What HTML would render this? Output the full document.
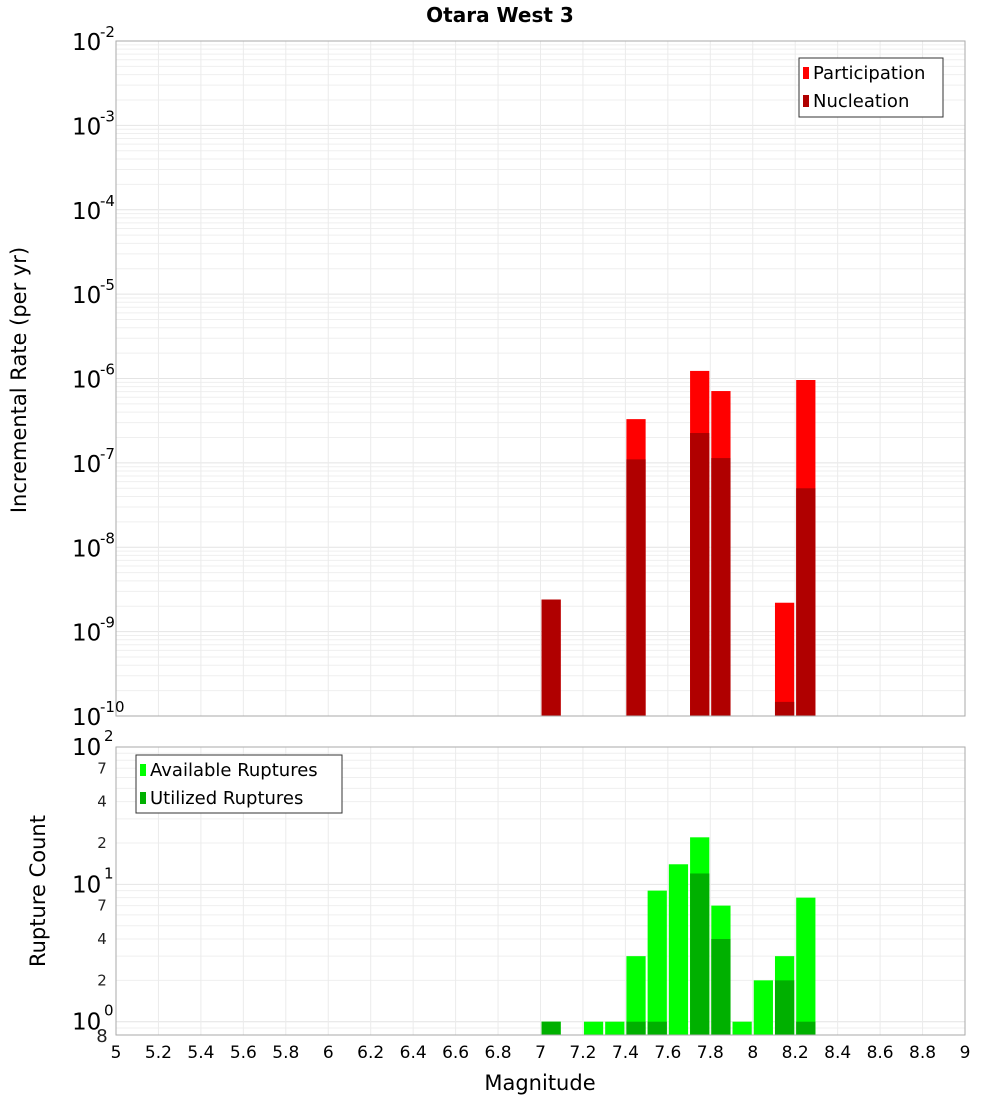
<!DOCTYPE html>
<html><head><meta charset="utf-8"><style>
body{margin:0;background:#fff;font-family:"Liberation Sans","DejaVu Sans",sans-serif}
svg text{font-family:"DejaVu Sans","Liberation Sans",sans-serif}
</style></head><body>
<svg id="c" width="1000" height="1100" xmlns="http://www.w3.org/2000/svg"></svg>
<script>
const mags=[7.0,7.4,7.7,7.8,8.1,8.2];
const partRate=[2.4e-9,3.3e-7,1.23e-6,7.1e-7,2.2e-9,9.6e-7];
const nuclRate=[2.4e-9,1.1e-7,2.26e-7,1.14e-7,1.47e-10,5e-8];
const cntMags=[7.0,7.2,7.3,7.4,7.5,7.6,7.7,7.8,7.9,8.0,8.1,8.2];
const availCount=[1,1,1,3,9,14,22,7,1,2,3,8];
const usedCount=[1,0,0,1,1,0,12,4,0,0,2,1];
const xTicks=[5,5.2,5.4,5.6,5.8,6,6.2,6.4,6.6,6.8,7,7.2,7.4,7.6,7.8,8,8.2,8.4,8.6,8.8,9];
const topExps=[-2,-3,-4,-5,-6,-7,-8,-9,-10];
const botMinor=[7,4,2,7,4,2,8];
const botMinorVal=[70,40,20,7,4,2,0.8];

const NS="http://www.w3.org/2000/svg";
const svg=document.getElementById('c');
function el(t,a,p){const e=document.createElementNS(NS,t);for(const k in a)e.setAttribute(k,a[k]);(p||svg).appendChild(e);return e;}
const X0=116,X1=965;
const xs=m=>X0+(m-5)/4*(X1-X0);
const T0=41,T1=716;
const yt=v=>T1-(Math.log10(v)+10)/8*(T1-T0);
const B0=747,B1=1035;
const yb=v=>B1-(Math.log10(v)-Math.log10(0.8))/(2-Math.log10(0.8))*(B1-B0);

// title
let t=el('text',{x:500,y:22,'text-anchor':'middle','font-size':20,'font-weight':'bold'});t.textContent='Otara West 3';


// top plot
let g=el('g',{});
el('rect',{x:X0,y:T0,width:X1-X0,height:T1-T0,fill:'#fff'},g);
for(let e=-10;e<-2;e++)for(let k=1;k<10;k++){const y=yt(k*Math.pow(10,e));if(y<T0)continue;
 el('line',{x1:X0,x2:X1,y1:y,y2:y,stroke:k==1?'#e4e4e4':'#efefef','stroke-width':1},g);}
xTicks.forEach(v=>el('line',{x1:xs(v),x2:xs(v),y1:T0,y2:T1,stroke:'#ebebeb'},g));
mags.forEach((m,i)=>{
 let r=el('rect',{x:xs(m)+1,y:yt(partRate[i]),width:xs(m+0.1)-xs(m)-2,height:T1-yt(partRate[i]),fill:'#ff0000'},g);
 
 r=el('rect',{x:xs(m)+1,y:yt(nuclRate[i]),width:xs(m+0.1)-xs(m)-2,height:T1-yt(nuclRate[i]),fill:'#b00000'},g);
 
});
el('rect',{x:X0,y:T0,width:X1-X0,height:T1-T0,fill:'none',stroke:'#aaa'},g);
topExps.forEach(e=>{const y=yt(Math.pow(10,e));
 let tx=el('text',{x:72,y:y+9,'font-size':23},g);tx.textContent='10';
 let s=el('text',{x:100,y:y-4,'font-size':15},g);s.textContent=String(e);});
t=el('text',{transform:'translate(26,380) rotate(-90)','text-anchor':'middle','font-size':21});t.textContent='Incremental Rate (per yr)';

// legend top
let lg=el('g',{});
el('rect',{x:799,y:58,width:144,height:59,fill:'#fff',stroke:'#333'},lg);
el('rect',{x:803,y:67,width:6,height:12,fill:'#ff0000'},lg);
el('rect',{x:803,y:95,width:6,height:12,fill:'#b00000'},lg);
t=el('text',{x:813,y:79,'font-size':18},lg);t.textContent='Participation';
t=el('text',{x:813,y:107,'font-size':18},lg);t.textContent='Nucleation';

// bottom plot
g=el('g',{});
for(let e=-1;e<2;e++)for(let k=1;k<10;k++){const v=k*Math.pow(10,e);if(v<0.8)continue;const y=yb(v);
 el('line',{x1:X0,x2:X1,y1:y,y2:y,stroke:k==1?'#e4e4e4':'#efefef'},g);}
xTicks.forEach(v=>el('line',{x1:xs(v),x2:xs(v),y1:B0,y2:B1,stroke:'#ebebeb'},g));
cntMags.forEach((m,i)=>{
 let r=el('rect',{x:xs(m)+1,y:yb(availCount[i]),width:xs(m+0.1)-xs(m)-2,height:B1-yb(availCount[i]),fill:'#00ff00'},g);
 
 if(usedCount[i]>0){r=el('rect',{x:xs(m)+1,y:yb(usedCount[i]),width:xs(m+0.1)-xs(m)-2,height:B1-yb(usedCount[i]),fill:'#00b000'},g);
 }
});
el('rect',{x:X0,y:B0,width:X1-X0,height:B1-B0,fill:'none',stroke:'#aaa'},g);
[2,1,0].forEach(e=>{const y=yb(Math.pow(10,e));
 let tx=el('text',{x:72,y:y+8,'font-size':23},g);tx.textContent='10';
 let s=el('text',{x:104,y:y-6,'font-size':15},g);s.textContent=String(e);});
botMinorVal.forEach((v,i)=>{let tx=el('text',{x:v<1?102:102,y:yb(v)+(v<1?7:5),'font-size':v<1?18:15,'text-anchor':'middle',fill:'#222'},g);tx.textContent=String(botMinor[i]);});
t=el('text',{transform:'translate(45,891) rotate(-90)','text-anchor':'middle','font-size':21});t.textContent='Rupture Count';

lg=el('g',{});
el('rect',{x:136,y:755,width:206,height:58,fill:'#fff',stroke:'#333'},lg);
el('rect',{x:140,y:764,width:6,height:12,fill:'#00ff00'},lg);
el('rect',{x:140,y:792,width:6,height:12,fill:'#00b000'},lg);
t=el('text',{x:150,y:776,'font-size':18},lg);t.textContent='Available Ruptures';
t=el('text',{x:150,y:804,'font-size':18},lg);t.textContent='Utilized Ruptures';

// x ticks
xTicks.forEach(v=>{let tx=el('text',{x:xs(v),y:1058,'font-size':17,'text-anchor':'middle'});tx.textContent=String(v);
 });
t=el('text',{x:540,y:1090,'text-anchor':'middle','font-size':21});t.textContent='Magnitude';

</script>
</body></html>
